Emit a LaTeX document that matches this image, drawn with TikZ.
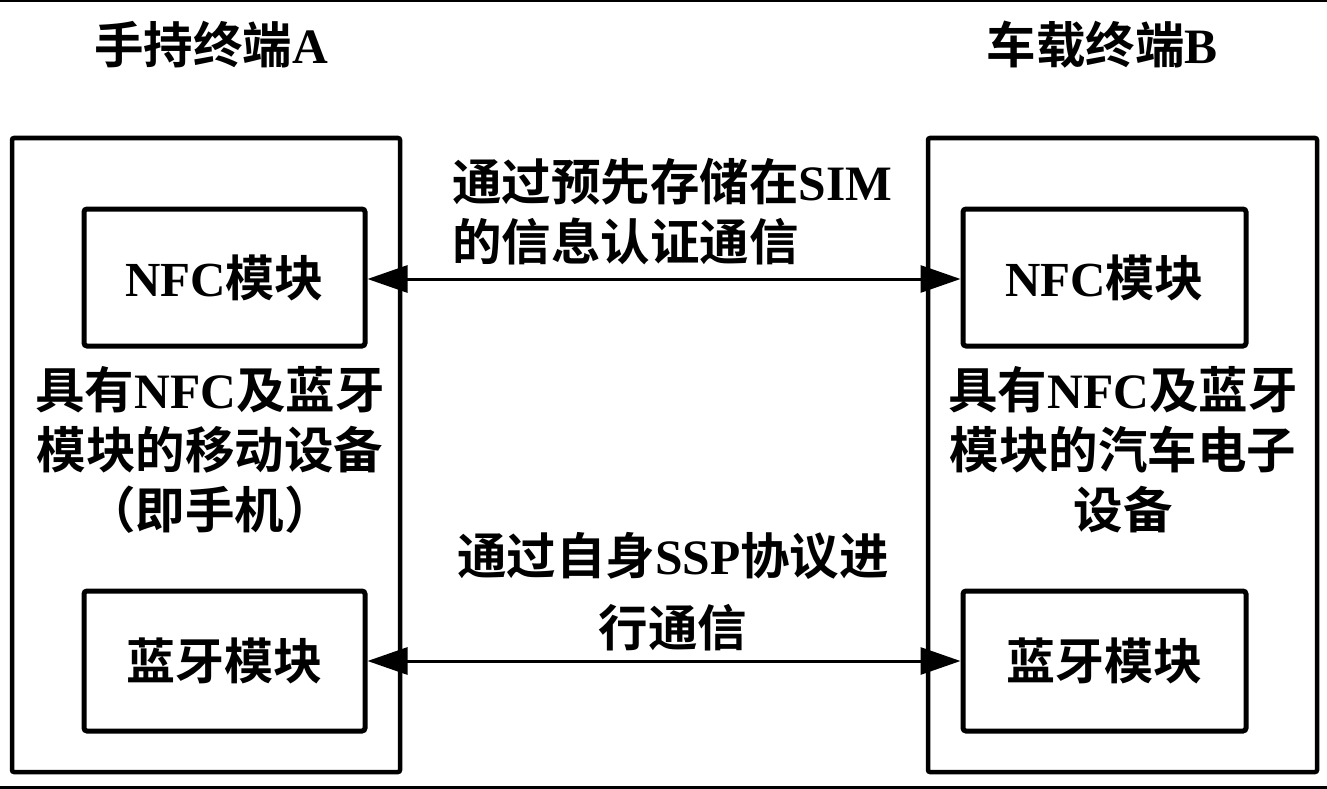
\documentclass[tikz,border=0pt]{standalone}
\usepackage{fontspec}
\usetikzlibrary{arrows.meta}
\setmainfont{Liberation Serif}
\newfontfamily\cjk{Noto Sans CJK SC}[BoldFont=* Bold]
\newfontfamily\latf{Liberation Serif}
\newcommand\lt[1]{{\latf\bfseries #1}}
\begin{document}
\begin{tikzpicture}[x=1pt,y=-1pt,
  txt/.style={font=\cjk\bfseries\fontsize{49.5}{60}\selectfont, inner sep=0pt},
  outerbox/.style={draw, line width=4.5pt, rounded corners=2pt, inner sep=0pt},
  innerbox/.style={draw, line width=5pt, rounded corners=3pt, inner sep=0pt, font=\cjk\bfseries\fontsize{49}{60}\selectfont},
  conn/.style={line width=3pt, {Triangle[length=40pt,width=27pt]}-{Triangle[length=40pt,width=27pt]}}]
\useasboundingbox (0,0) rectangle (1327,789);
% frame lines
\coordinate (tl) at (0,1);
\coordinate (tr) at (1327,1);
\coordinate (bl) at (0,787);
\coordinate (br) at (1327,787);
\draw[line width=2pt] (tl) -- (tr);
\draw[line width=3pt] (bl) -- (br);
% titles
\node[txt] (titleA) at (211,45) {手持终端\lt{A}};
\node[txt] (titleB) at (1102,45) {车载终端\lt{B}};
% outer boxes
\node[outerbox, minimum width=388pt, minimum height=634pt] (outA) at (206,455) {};
\node[outerbox, minimum width=389pt, minimum height=634pt] (outB) at (1122.5,455) {};
% inner boxes
\node[innerbox, minimum width=281pt, minimum height=137pt] (nfcA) at (224.5,277.5) {\lt{NFC}模块};
\node[innerbox, minimum width=281pt, minimum height=140pt] (btA) at (224.5,661) {蓝牙模块};
\node[innerbox, minimum width=283pt, minimum height=137pt] (nfcB) at (1104.5,277.5) {\lt{NFC}模块};
\node[innerbox, minimum width=283pt, minimum height=140pt] (btB) at (1104.5,661) {蓝牙模块};
% descriptions
\node[txt, align=center] (descA) at (210,450) {具有\lt{NFC}及蓝牙\\模块的移动设备\\（即手机）};
\node[txt, align=center] (descB) at (1123,450) {具有\lt{NFC}及蓝牙\\模块的汽车电子\\设备};
% connectors
\draw[conn] (nfcA.east |- 0,279) -- (nfcB.west |- 0,279);
\draw[conn] (btA.east |- 0,661) -- (btB.west |- 0,661);
% connector labels
\node[txt, align=left, anchor=north west] (lab1) at (452,158) {通过预先存储在\lt{SIM}\\的信息认证通信};
\node[txt, align=center] (lab2) at (673,592) {通过自身\lt{SSP}协议进\\[12pt]行通信};
\end{tikzpicture}
\end{document}
